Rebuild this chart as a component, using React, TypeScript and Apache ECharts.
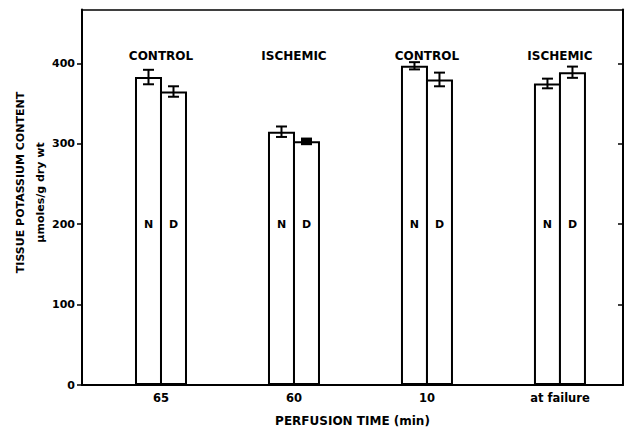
import React, { useEffect, useRef } from 'react';
import * as echarts from 'echarts';

const categories = ['65', '60', '10', 'at failure'];
const conditions = ['CONTROL', 'ISCHEMIC', 'CONTROL', 'ISCHEMIC'];
const normalMean = [383, 315, 397, 375];
const normalErr = [9, 6.5, 4.5, 6];
const diabeticMean = [365, 303, 380, 389];
const diabeticErr = [6.5, 3.5, 8.5, 7];
const yTicks = [0, 100, 200, 300, 400];
const rightTicks = [100, 200, 300, 400];

const FONT = '"DejaVu Sans", sans-serif';
const BAR_W = 27;
const OVERLAP = 2;

export default function App() {
  const ref = useRef<HTMLDivElement>(null);
  useEffect(() => {
    if (!ref.current) return;
    const chart = echarts.init(ref.current, null, { renderer: 'svg' });
    const positions = categories.map((_, i) => i + 1);

    const makeErr = (name: string, means: number[], errs: number[], off: number, thick: number[]) => ({
      type: 'custom',
      name,
      xAxisIndex: 0,
      yAxisIndex: 0,
      z: 5,
      silent: true,
      data: means.map((m, i) => [positions[i], m + errs[i], m - errs[i], thick[i]]),
      renderItem: (params: any, api: any) => {
        const top = api.coord([api.value(0), api.value(1)]);
        const bot = api.coord([api.value(0), api.value(2)]);
        const x = top[0] + off;
        const s = { stroke: '#000', lineWidth: 2 };
        const children: any[] = [
          { type: 'line', shape: { x1: x, y1: top[1], x2: x, y2: bot[1] }, style: s },
          { type: 'line', shape: { x1: x - 5.5, y1: top[1], x2: x + 5.5, y2: top[1] }, style: s },
          { type: 'line', shape: { x1: x - 5.5, y1: bot[1], x2: x + 5.5, y2: bot[1] }, style: s },
        ];
        if (api.value(3)) {
          children.push({
            type: 'rect',
            shape: { x: x - 5.5, y: top[1], width: 11, height: bot[1] - top[1] },
            style: { fill: '#000' },
          });
        }
        return { type: 'group', children };
      },
    });

    const barLabel = {
      show: true,
      position: 'insideBottom',
      distance: 155,
      formatter: '{a}',
      color: '#000',
      fontFamily: FONT,
      fontWeight: 'bold',
      fontSize: 11,
    };

    const gap = `${(-OVERLAP / BAR_W) * 100}%`;

    chart.setOption({
      animation: false,
      backgroundColor: '#fff',
      grid: { left: 82, right: 4, top: 9.5, bottom: 45, containLabel: false, outerBoundsMode: 'none' },
      xAxis: [
        {
          type: 'value',
          position: 'bottom',
          min: 0.406,
          max: 4.474,
          splitLine: { show: false },
          axisLine: { show: true, onZero: false, lineStyle: { color: '#000', width: 2 } },
          axisTick: { show: false },
          axisLabel: {
            customValues: positions,
            formatter: (v: number) => categories[Math.round(v) - 1] ?? '',
            color: '#000',
            fontFamily: FONT,
            fontWeight: 'bold',
            fontSize: 11.5,
            margin: 7,
          },
          name: 'PERFUSION TIME (min)',
          nameLocation: 'middle',
          nameGap: 30,
          nameTextStyle: { color: '#000', fontFamily: FONT, fontWeight: 'bold', fontSize: 12 },
        },
        {
          type: 'value',
          position: 'top',
          min: 0.406,
          max: 4.474,
          splitLine: { show: false },
          axisLine: { show: true, onZero: false, lineStyle: { color: '#000', width: 1.5 } },
          axisTick: { show: false },
          axisLabel: {
            inside: true,
            customValues: positions,
            formatter: (v: number) => conditions[Math.round(v) - 1] ?? '',
            color: '#000',
            fontFamily: FONT,
            fontWeight: 'bold',
            fontSize: 12,
            margin: 40,
          },
        },
      ],
      yAxis: [
        {
          type: 'value',
          position: 'left',
          min: 0,
          max: 467,
          splitLine: { show: false },
          axisLine: { show: true, onZero: false, lineStyle: { color: '#000', width: 2 } },
          axisTick: { show: true, customValues: yTicks, length: 5, lineStyle: { color: '#000', width: 1.5 } },
          axisLabel: {
            customValues: yTicks,
            color: '#000',
            fontFamily: FONT,
            fontWeight: 'bold',
            fontSize: 11,
            margin: 7,
          },
        },
        {
          type: 'value',
          position: 'right',
          min: 0,
          max: 467,
          splitLine: { show: false },
          axisLine: { show: true, onZero: false, lineStyle: { color: '#000', width: 2 } },
          axisTick: { show: true, inside: true, customValues: rightTicks, length: 5, lineStyle: { color: '#000', width: 1.5 } },
          axisLabel: { show: false },
        },
      ],
      series: [
        {
          type: 'bar',
          name: 'N',
          xAxisIndex: 0,
          yAxisIndex: 0,
          barWidth: BAR_W,
          barGap: gap,
          data: normalMean.map((m, i) => [positions[i], m]),
          itemStyle: { color: '#fff', borderColor: '#000', borderWidth: 2 },
          label: barLabel,
        },
        {
          type: 'bar',
          name: 'D',
          xAxisIndex: 0,
          yAxisIndex: 0,
          barWidth: BAR_W,
          barGap: gap,
          data: diabeticMean.map((m, i) => [positions[i], m]),
          itemStyle: { color: '#fff', borderColor: '#000', borderWidth: 2 },
          label: barLabel,
        },
        makeErr('N err', normalMean, normalErr, -(BAR_W - OVERLAP) / 2, [0, 0, 0, 0]),
        makeErr('D err', diabeticMean, diabeticErr, (BAR_W - OVERLAP) / 2, [0, 1, 0, 0]),
      ],
      graphic: [
        {
          type: 'text',
          x: 20,
          y: 182.5,
          rotation: Math.PI / 2,
          style: {
            text: 'TISSUE POTASSIUM CONTENT',
            font: `bold 11px ${FONT}`,
            fill: '#000',
            align: 'center',
            verticalAlign: 'middle',
          },
        },
        {
          type: 'text',
          x: 40,
          y: 192.5,
          rotation: Math.PI / 2,
          style: {
            text: 'µmoles/g dry wt',
            font: `bold 11px ${FONT}`,
            fill: '#000',
            align: 'center',
            verticalAlign: 'middle',
          },
        },
      ],
    });
    return () => chart.dispose();
  }, []);
  return (
    <div
      ref={ref}
      style={{ position: 'fixed', left: 0, top: 0, width: 627, height: 430, background: '#fff' }}
    />
  );
}
